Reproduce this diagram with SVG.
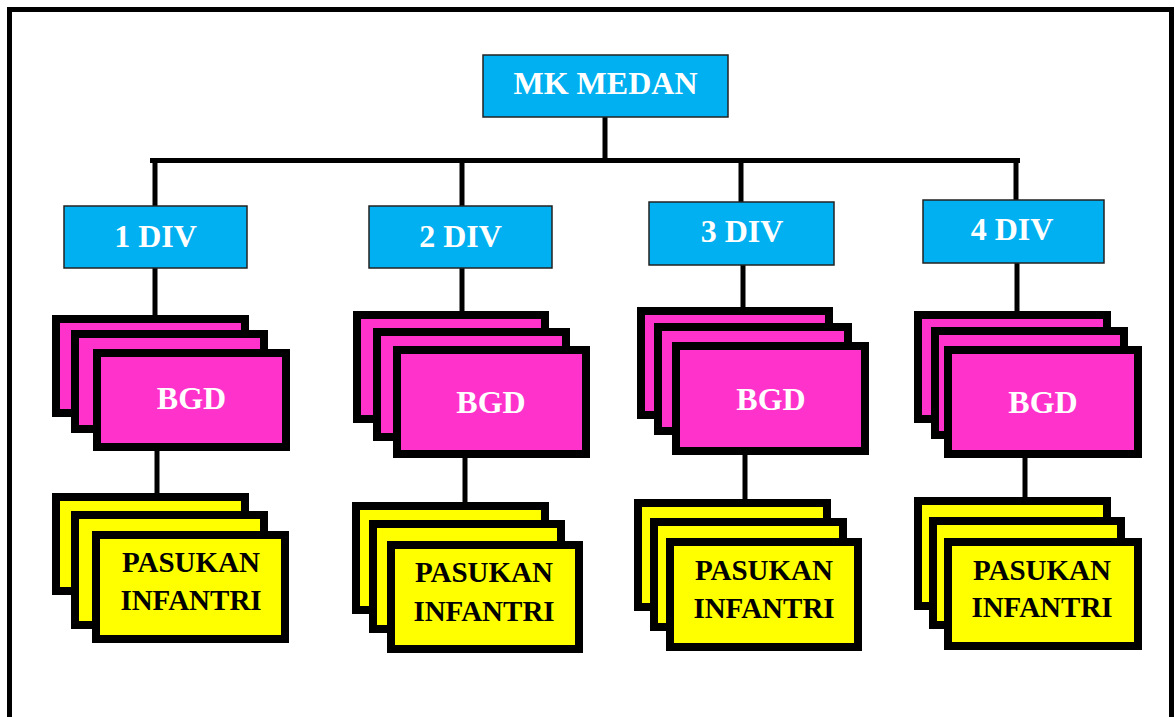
<svg xmlns="http://www.w3.org/2000/svg" width="1175" height="717" viewBox="0 0 1175 717">
  <style>
    .frame { fill: none; stroke: #000; stroke-width: 5; }
    .div { fill: #00B0F0; stroke: #222; stroke-width: 1.5; }
    .bgd { fill: #FF33CC; stroke: #000; stroke-width: 8; }
    .inf { fill: #FFFF00; stroke: #000; stroke-width: 8; }
    .wire { stroke: #000; stroke-width: 5; fill: none; stroke-linecap: butt; }
    .lbl { font-family: "Liberation Serif", "Times New Roman", serif; font-weight: bold; text-anchor: middle; }
    .w { fill: #fff; font-size: 32px; }
    .k { fill: #000; font-size: 29px; }
  </style>

  <rect class="frame" x="9.5" y="9.5" width="1162" height="720"/>

  <!-- connectors -->
  <g id="connectors">
    <line class="wire" x1="605" y1="117" x2="605" y2="161"/>
    <line class="wire" x1="150" y1="160.5" x2="1020" y2="160.5"/>
    <line class="wire" x1="155" y1="158" x2="155" y2="206"/>
    <line class="wire" x1="462" y1="158" x2="462" y2="206"/>
    <line class="wire" x1="741" y1="158" x2="741" y2="202"/>
    <line class="wire" x1="1016" y1="158" x2="1016" y2="200"/>
    <!-- division to brigade -->
    <line class="wire" x1="155" y1="268" x2="155" y2="316"/>
    <line class="wire" x1="462" y1="268" x2="462" y2="312"/>
    <line class="wire" x1="743" y1="265" x2="743" y2="308"/>
    <line class="wire" x1="1017" y1="263" x2="1017" y2="312"/>
    <!-- brigade to infantry -->
    <line class="wire" x1="157" y1="450" x2="157" y2="494"/>
    <line class="wire" x1="465" y1="457" x2="465" y2="503"/>
    <line class="wire" x1="745" y1="454" x2="745" y2="500"/>
    <line class="wire" x1="1025" y1="457" x2="1025" y2="498"/>
  </g>

  <!-- headquarters -->
  <g id="mk-medan">
    <rect class="div" x="483" y="55" width="245" height="62"/>
    <text class="lbl w" x="605.5" y="94">MK MEDAN</text>
  </g>

  <!-- divisions -->
  <g id="div1">
    <rect class="div" x="64" y="206" width="183" height="62"/>
    <text class="lbl w" x="155.5" y="247">1 DIV</text>
  </g>
  <g id="div2">
    <rect class="div" x="369" y="206" width="183" height="62"/>
    <text class="lbl w" x="460.5" y="247">2 DIV</text>
  </g>
  <g id="div3">
    <rect class="div" x="649" y="202" width="185" height="63"/>
    <text class="lbl w" x="742" y="242">3 DIV</text>
  </g>
  <g id="div4">
    <rect class="div" x="923" y="200" width="181" height="63"/>
    <text class="lbl w" x="1012" y="240">4 DIV</text>
  </g>

  <!-- brigade stacks -->
  <g id="bgd1">
    <rect class="bgd" x="56" y="319" width="189" height="94"/>
    <rect class="bgd" x="75" y="334" width="189" height="95"/>
    <rect class="bgd" x="97" y="353" width="189" height="94"/>
    <text class="lbl w" x="191.5" y="409">BGD</text>
  </g>
  <g id="bgd2">
    <rect class="bgd" x="357" y="315" width="188" height="104"/>
    <rect class="bgd" x="377" y="332" width="189" height="105"/>
    <rect class="bgd" x="397" y="350" width="189" height="104"/>
    <text class="lbl w" x="491" y="413">BGD</text>
  </g>
  <g id="bgd3">
    <rect class="bgd" x="641" y="311" width="188" height="104"/>
    <rect class="bgd" x="658" y="327" width="190" height="104"/>
    <rect class="bgd" x="676" y="346" width="189" height="105"/>
    <text class="lbl w" x="771" y="410">BGD</text>
  </g>
  <g id="bgd4">
    <rect class="bgd" x="918" y="315" width="189" height="104"/>
    <rect class="bgd" x="935" y="331" width="189" height="104"/>
    <rect class="bgd" x="948" y="350" width="190" height="104"/>
    <text class="lbl w" x="1043" y="413">BGD</text>
  </g>

  <!-- infantry stacks -->
  <g id="inf1">
    <rect class="inf" x="56" y="497" width="189" height="94"/>
    <rect class="inf" x="75" y="515" width="189" height="110"/>
    <rect class="inf" x="96" y="535" width="189" height="104"/>
    <text class="lbl k" x="191" y="572">PASUKAN</text>
    <text class="lbl k" x="191" y="610">INFANTRI</text>
  </g>
  <g id="inf2">
    <rect class="inf" x="356" y="506" width="189" height="104"/>
    <rect class="inf" x="373" y="524" width="188" height="105"/>
    <rect class="inf" x="391" y="545" width="188" height="104"/>
    <text class="lbl k" x="484" y="582">PASUKAN</text>
    <text class="lbl k" x="484" y="621">INFANTRI</text>
  </g>
  <g id="inf3">
    <rect class="inf" x="638" y="503" width="189" height="104"/>
    <rect class="inf" x="654" y="522" width="189" height="105"/>
    <rect class="inf" x="670" y="542" width="188" height="105"/>
    <text class="lbl k" x="764" y="580">PASUKAN</text>
    <text class="lbl k" x="764" y="618">INFANTRI</text>
  </g>
  <g id="inf4">
    <rect class="inf" x="918" y="501" width="189" height="105"/>
    <rect class="inf" x="933" y="521" width="188" height="104"/>
    <rect class="inf" x="948" y="542" width="190" height="104"/>
    <text class="lbl k" x="1042" y="580">PASUKAN</text>
    <text class="lbl k" x="1042" y="617">INFANTRI</text>
  </g>
</svg>
